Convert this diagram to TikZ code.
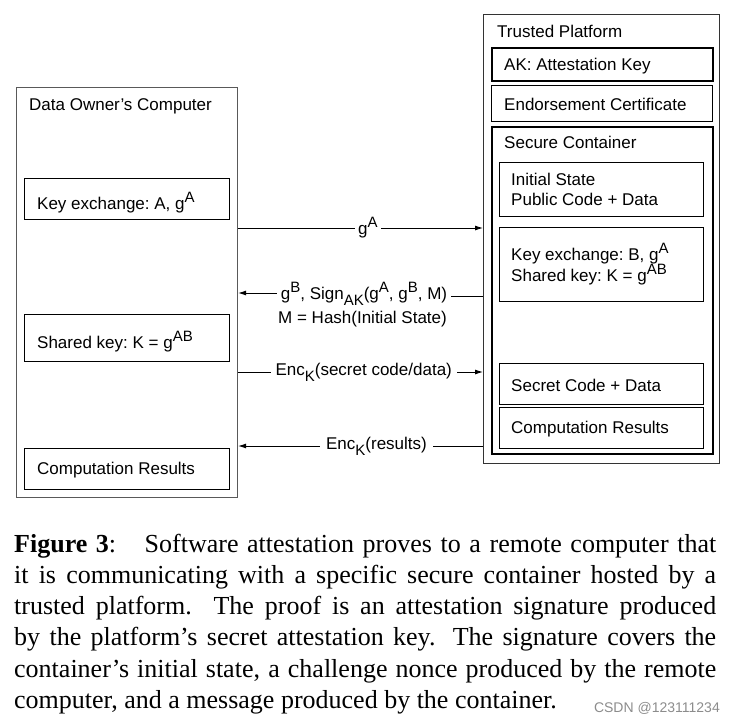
\documentclass[tikz,border=0pt]{standalone}
\usepackage{fontspec}
\setmainfont{Liberation Sans}
\newfontfamily\capfont{Liberation Serif}
\usetikzlibrary{arrows.meta}
\frenchspacing
\newcommand\sups[1]{\raisebox{7pt}{\fontsize{15}{15}\selectfont #1}}
\newcommand\subs[1]{\raisebox{-6pt}{\fontsize{15}{15}\selectfont #1}}
\begin{document}
\begin{tikzpicture}[x=1pt,y=-1pt,
  every node/.style={font=\fontsize{17}{20}\selectfont},
  outerbox/.style={draw=black!65, line width=1.1pt, inner sep=0, anchor=north west},
  inbox/.style={draw=black, line width=0.9pt, inner sep=0, anchor=north west},
  thickbox/.style={draw=black, line width=2pt, inner sep=0, anchor=north west},
  txt/.style={anchor=base west, inner sep=0},
  lbl/.style={fill=white, inner sep=3pt, anchor=center},
  msg/.style={draw=black, line width=0.9pt},
  arr/.style={msg, -{Latex[length=8pt,width=5pt]}}]
\useasboundingbox (0,0) rectangle (735,723);
% Data owner's computer
\node[outerbox, minimum width=221pt, minimum height=410pt] (owner) at (16,87) {};
\node[txt] (ownert) at (29,110) {Data Owner’s Computer};
\node[inbox, minimum width=205pt, minimum height=41pt] (okx) at (24,178) {};
\node[txt] (okxt) at (37,209) {Key exchange: A, g\sups{A}};
\node[inbox, minimum width=205pt, minimum height=47pt] (osk) at (24,314) {};
\node[txt] (oskt) at (37,348) {Shared key: K = g\sups{AB}};
\node[inbox, minimum width=205pt, minimum height=41pt] (ocr) at (24,448) {};
\node[txt] (ocrt) at (37,474) {Computation Results};
% Trusted platform
\node[outerbox, draw=black!80, minimum width=236pt, minimum height=449pt] (plat) at (483,14) {};
\node[txt] (platt) at (497,37) {Trusted Platform};
\node[thickbox, minimum width=221pt, minimum height=33pt] (ak) at (491,47) {};
\node[txt] (akt) at (504,70) {AK: Attestation Key};
\node[inbox, minimum width=221pt, minimum height=36pt] (ec) at (491,85) {};
\node[txt] (ect) at (504,110) {Endorsement Certificate};
\node[thickbox, minimum width=221pt, minimum height=327pt] (sc) at (491,126) {};
\node[txt] (sct) at (504,148) {Secure Container};
\node[inbox, minimum width=204pt, minimum height=54pt] (is) at (499,162) {};
\node[txt] (ist1) at (511,185) {Initial State};
\node[txt] (ist2) at (511,205) {Public Code + Data};
\node[inbox, minimum width=204pt, minimum height=74pt] (pkx) at (499,227) {};
\node[txt] (pkxt1) at (511,260) {Key exchange: B, g\sups{A}};
\node[txt] (pkxt2) at (511,281) {Shared key: K = g\sups{AB}};
\node[inbox, minimum width=204pt, minimum height=41pt] (scd) at (499,363) {};
\node[txt] (scdt) at (511,391) {Secret Code + Data};
\node[inbox, minimum width=204pt, minimum height=41pt] (pcr) at (499,407) {};
\node[txt] (pcrt) at (511,433) {Computation Results};
% messages
\draw[arr] (owner.east |- 0,228) -- node[lbl, pos=0.53] (m1) {g\sups{A}} (plat.west |- 0,228);
\node[lbl, inner sep=4pt] (m2) at (364,294) {g\sups{B}, Sign\subs{AK}(g\sups{A}, g\sups{B}, M)};
\draw[msg] (m2.east |- 0,296) -- (plat.west |- 0,296);
\draw[arr] (m2.west |- 0,293) -- (owner.east |- 0,293);
\node[txt] (m2b) at (278,323) {M = Hash(Initial State)};
\draw[arr] (owner.east |- 0,372) -- node[lbl, pos=0.513, inner sep=5pt] (m3) {Enc\subs{K}(secret code/data)} (plat.west |- 0,372);
\draw[arr] (plat.west |- 0,446) -- node[lbl, pos=0.435, inner sep=6pt] (m4) {Enc\subs{K}(results)} (owner.east |- 0,446);
% caption
\node[anchor=base west, inner sep=0, text width=702pt, align=justify,
  font=\capfont\fontsize{26}{31.3}\selectfont] (cap) at (14,552)
  {\nonfrenchspacing\hyphenpenalty=10000 \textbf{Figure 3}:\hspace{0.6em} Software attestation proves to a remote computer that\linebreak
  it is communicating with a specific secure container hosted by a\linebreak
  trusted platform. The proof is an attestation signature produced\linebreak
  by the platform’s secret attestation key. The signature covers the\linebreak
  container’s initial state, a challenge nonce produced by the remote\linebreak
  computer, and a message produced by the container.};
\node[anchor=base east, inner sep=0, text=black!45, font=\fontsize{14}{16}\selectfont] (wm) at (720,712) {CSDN @123111234};
\end{tikzpicture}
\end{document}
